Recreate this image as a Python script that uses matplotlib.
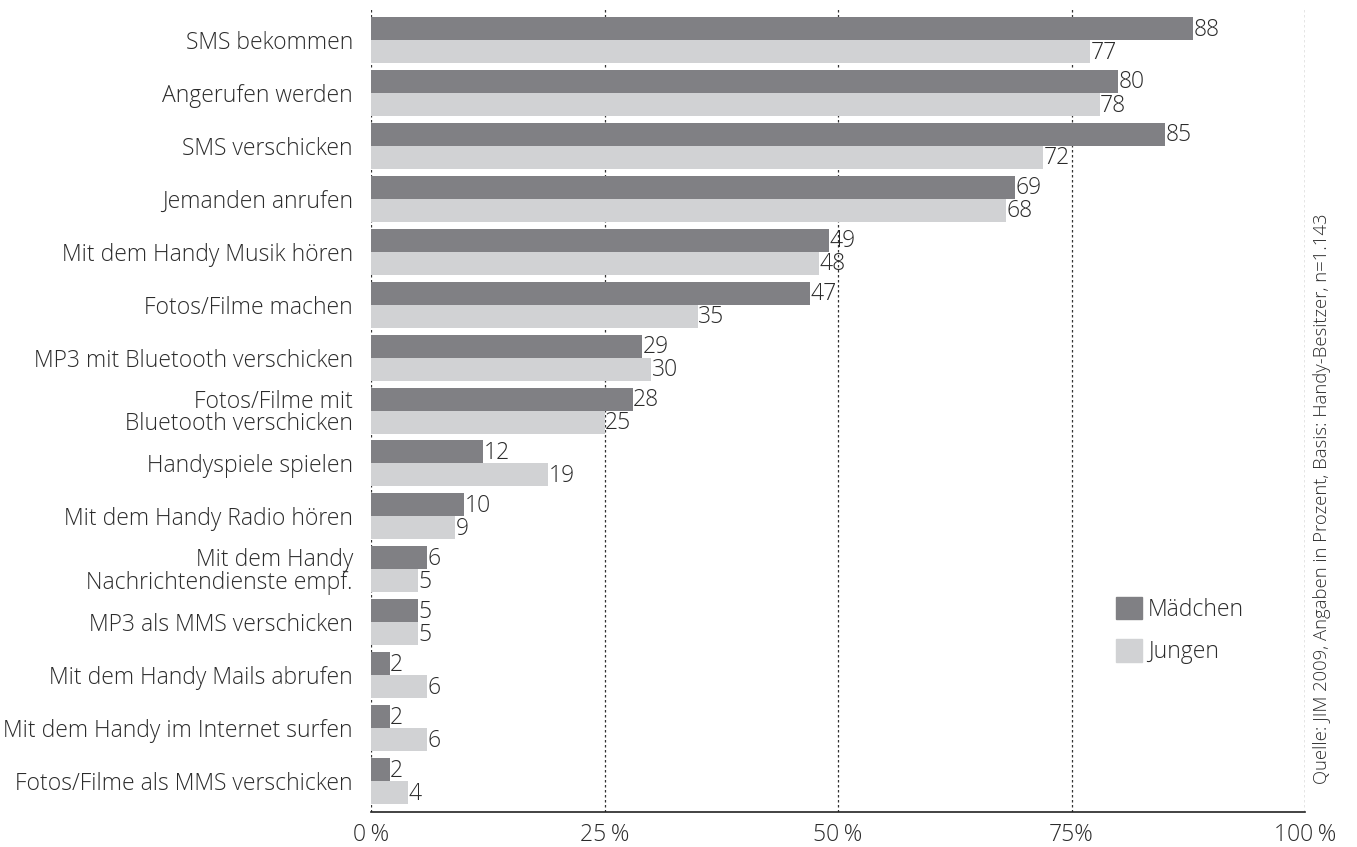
import matplotlib
matplotlib.use("Agg")
import matplotlib.pyplot as plt
import numpy as np
from matplotlib.patches import Patch

plt.rcParams['font.family'] = ['Open Sans', 'DejaVu Sans']
plt.rcParams['font.weight'] = 300

categories = [
    "SMS bekommen", "Angerufen werden", "SMS verschicken", "Jemanden anrufen",
    "Mit dem Handy Musik hören", "Fotos/Filme machen", "MP3 mit Bluetooth verschicken",
    "Fotos/Filme mit\nBluetooth verschicken", "Handyspiele spielen",
    "Mit dem Handy Radio hören", "Mit dem Handy\nNachrichtendienste empf.",
    "MP3 als MMS verschicken", "Mit dem Handy Mails abrufen",
    "Mit dem Handy im Internet surfen", "Fotos/Filme als MMS verschicken",
]
maedchen = [88, 80, 85, 69, 49, 47, 29, 28, 12, 10, 6, 5, 2, 2, 2]
jungen = [77, 78, 72, 68, 48, 35, 30, 25, 19, 9, 5, 5, 6, 6, 4]
xticks = [0, 25, 50, 75, 100]
xticklabels = ["0\u2009%", "25\u2009%", "50\u2009%", "75%", "100\u2009%"]
source = "Quelle: JIM 2009, Angaben in Prozent, Basis: Handy-Besitzer, n=1.143"

c_dark = "#808084"
c_light = "#d1d2d4"
txt = "#2b2b2b"

fig = plt.figure(figsize=(13.57, 8.47), dpi=100)
ax = fig.add_axes([371/1357, 1-812/847, (1305-371)/1357, (812-8)/847])

n = len(categories)
y = np.arange(n)
h = 0.435
ax.barh(y - h/2, maedchen, height=h, color=c_dark, zorder=3)
ax.barh(y + h/2, jungen, height=h, color=c_light, zorder=3)

fs = 16.5
for i in range(n):
    ax.text(maedchen[i] + 0.05, y[i] - h/2 + 0.02, str(maedchen[i]), va='center', ha='left',
            fontsize=fs, color=txt, zorder=4)
    ax.text(jungen[i] + 0.05, y[i] + h/2 + 0.02, str(jungen[i]), va='center', ha='left',
            fontsize=fs, color=txt, zorder=4)

ax.set_ylim(14.585, -0.605)
ax.set_xlim(0, 100)
ax.set_yticks(y)
ax.set_yticklabels(categories, fontsize=fs, color=txt, linespacing=0.9)
ax.tick_params(axis='y', length=0, pad=13)
ax.set_xticks(xticks)
ax.set_xticklabels(xticklabels, fontsize=fs, color=txt)
ax.tick_params(axis='x', length=0, pad=8)

for xv in xticks:
    ax.axvline(xv, color="#333333", linestyle=(0, (2, 2)), linewidth=0.9, zorder=1)

for s in ['top', 'right', 'left']:
    ax.spines[s].set_visible(False)
ax.spines['bottom'].set_color('#222222')
ax.spines['bottom'].set_linewidth(1.2)
ax.spines['bottom'].set_bounds(0, 100)

handles = [Patch(color=c_dark, label="Mädchen"), Patch(color=c_light, label="Jungen")]
leg = ax.legend(handles=handles, loc='upper left', bbox_to_anchor=(1095/1357, 1-576/847),
                bbox_transform=fig.transFigure, frameon=False, fontsize=fs,
                handlelength=1.15, handleheight=1.15, labelspacing=0.75, handletextpad=0.25)
for t in leg.get_texts():
    t.set_color(txt)

fig.text(1322/1357, 1-499/847, source, rotation=90, ha='center', va='center',
         fontsize=13.3, color=txt)

fig.savefig("out.png", dpi=100)
